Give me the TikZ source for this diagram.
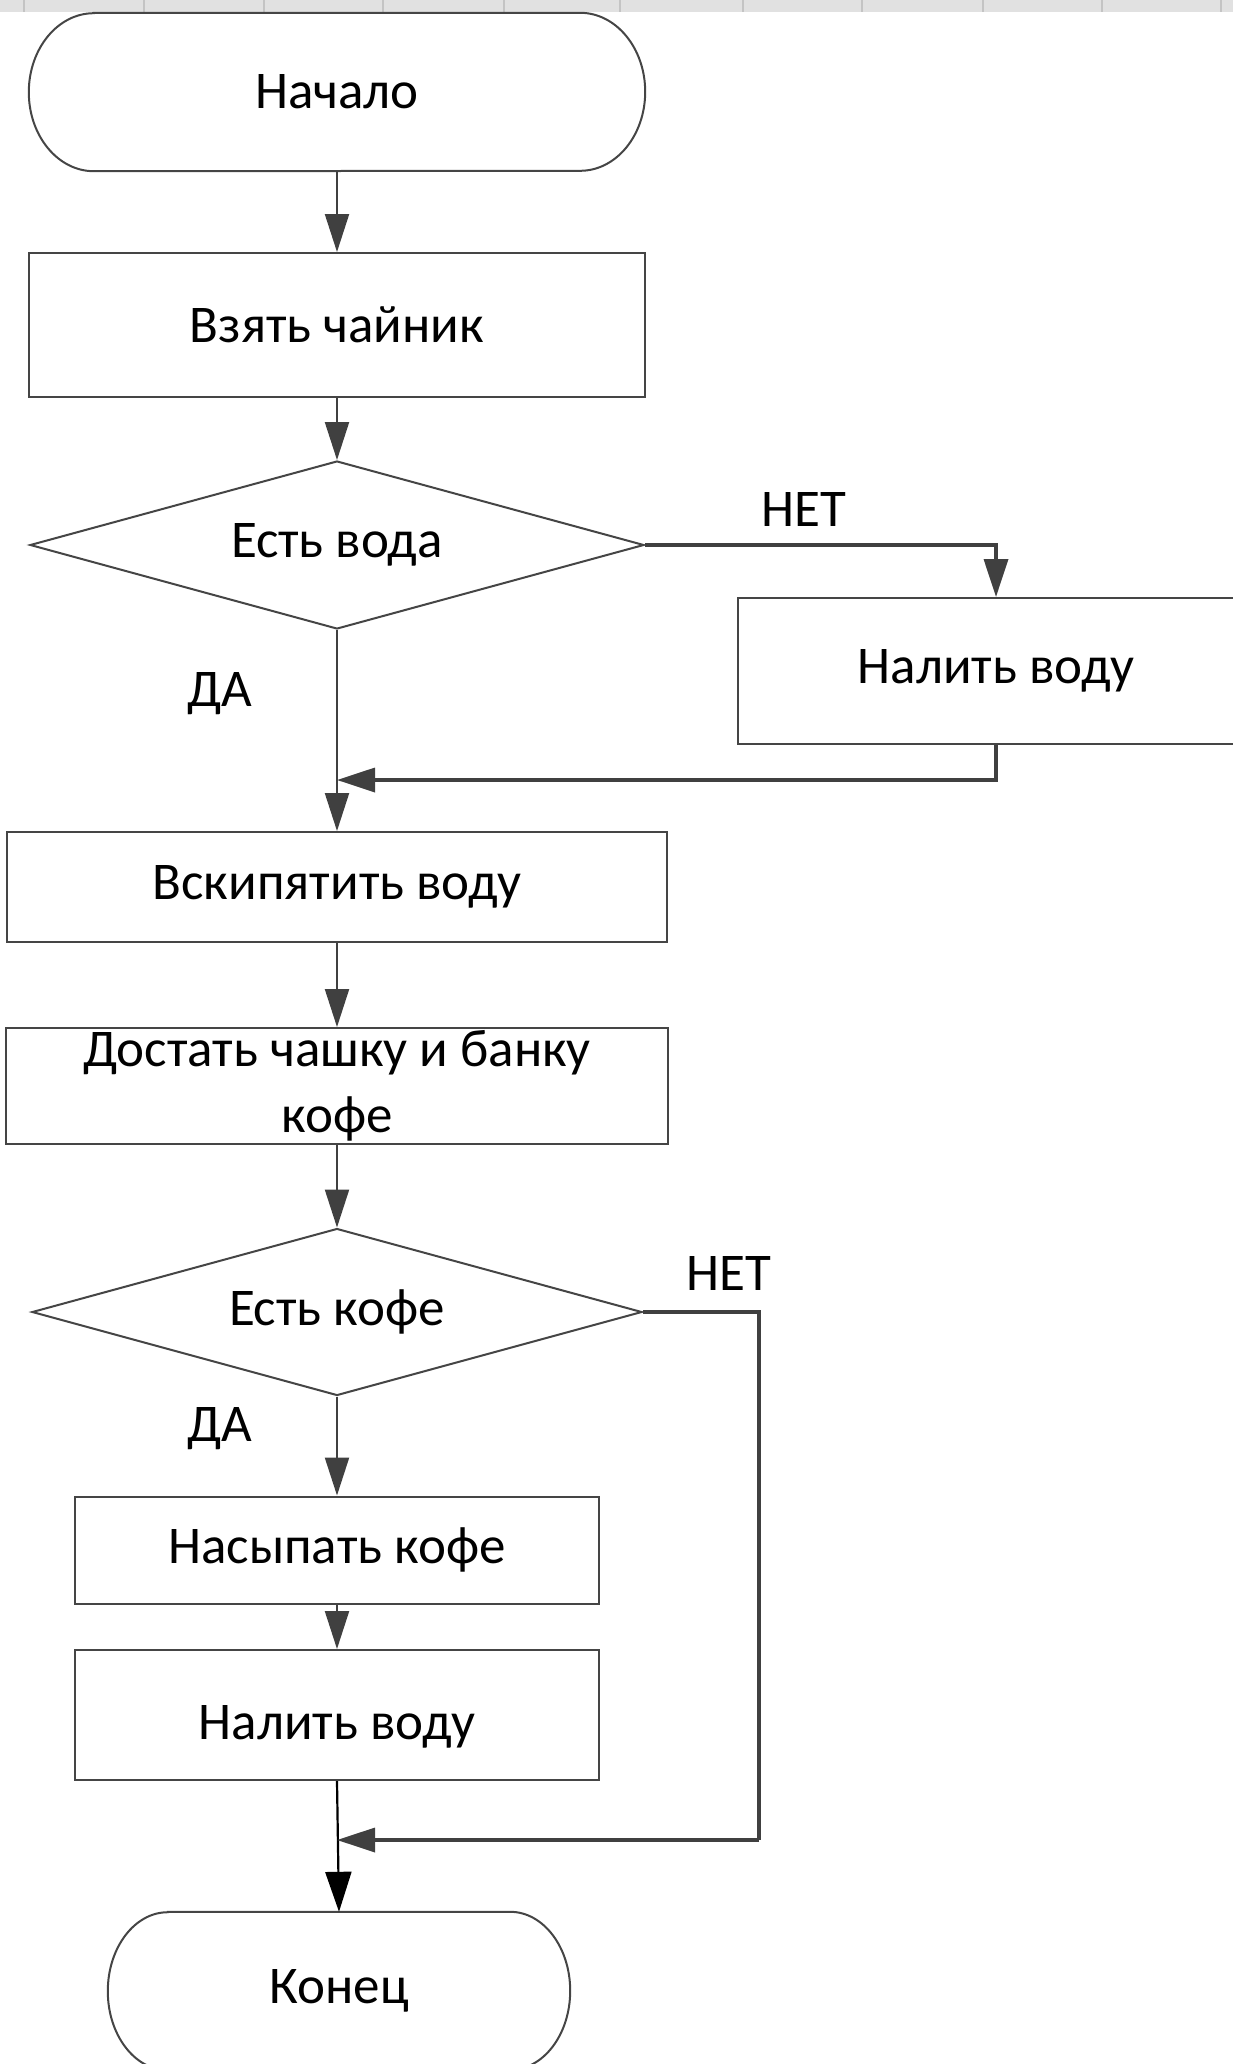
\documentclass[tikz,border=0pt]{standalone}
\usepackage{fontspec}
\setmainfont{Carlito}
\usetikzlibrary{shapes.geometric,arrows.meta}
\newcommand\flowfont{\fontsize{53}{66}\selectfont}
\definecolor{shapeline}{HTML}{454545}
\definecolor{lineclr}{HTML}{404040}
\definecolor{bandclr}{HTML}{E1E1E1}
\definecolor{bandline}{HTML}{C4C4C4}
\newcommand\capsule[3]{%
  \draw[outline] ([xshift=#2]#1.north west) -- ([xshift=-#2]#1.north east)
    arc[start angle=90,end angle=-90,x radius=#2,y radius=#3]
    -- ([xshift=#2]#1.south west)
    arc[start angle=270,end angle=90,x radius=#2,y radius=#3] -- cycle;}
\begin{document}
\begin{tikzpicture}[x=1pt,y=-1pt,
  outline/.style={draw=shapeline, line width=2pt},
  box/.style={outline, rectangle, inner sep=0pt, font=\flowfont, text=black, align=center},
  dia/.style={outline, diamond, inner sep=0pt, aspect=3.6, font=\flowfont, text=black},
  term/.style={rectangle, inner sep=0pt, font=\flowfont, text=black},
  lbl/.style={inner sep=0pt, font=\flowfont, text=black},
  conn/.style={draw=lineclr, line width=2.2pt},
  branch/.style={draw=lineclr, line width=3.5pt},
  tip/.style={-{Triangle[length=38pt,width=24pt]}}
]
\useasboundingbox (0,0) rectangle (1233,2064);
\clip (0,0) rectangle (1233,2064);
% top band
\fill[bandclr] (0,0) rectangle (1233,12);
\foreach \xx in {24,144,264,383,504,620,743,862,983,1102,1221}
  \draw[bandline, line width=1.5pt] (\xx,0) -- (\xx,12);

% nodes
\node[term, minimum width=616pt, minimum height=158pt] (start) at (337,92) {Начало};
\capsule{start}{65pt}{79pt}
\node[box, minimum width=616pt, minimum height=144pt] (b1) at (337,325) {Взять чайник};
\node[dia, minimum width=614pt, minimum height=168pt] (d1) at (337,545) {Есть вода};
\node[box, minimum width=516pt, minimum height=146pt] (n1) at (996,671) {Налить воду};
\node[box, minimum width=660pt, minimum height=110pt] (b3) at (337,887) {Вскипятить воду};
\node[box, minimum width=662pt, minimum height=116pt] (b4) at (337,1086) {Достать чашку и банку\\кофе};
\node[dia, minimum width=610pt, minimum height=167pt] (d2) at (337,1312) {Есть кофе};
\node[box, minimum width=524pt, minimum height=107pt] (b5) at (337,1550) {Насыпать кофе};
\node[box, minimum width=524pt, minimum height=130pt] (b6) at (337,1715) {\raisebox{-12pt}[\height][\depth]{Налить воду}};
\node[term, minimum width=462pt, minimum height=158pt] (end) at (339,1991) {Конец};
\capsule{end}{60pt}{79pt}

% labels
\node[lbl] (no1) at (804,509) {НЕТ};
\node[lbl] (yes1) at (220,694) {ДА};
\node[lbl] (no2) at (729,1273) {НЕТ};
\node[lbl] (yes2) at (220,1429) {ДА};

% merge points
\coordinate (m1) at (337,780);
\coordinate (r2) at (759,1840);
\coordinate (m2) at (337,1840);

% connectors
\draw[conn,tip] (start.south) -- (b1.north);
\draw[conn,tip] (b1.south) -- (d1.north);
\draw[branch,tip] (d1.east) -| (n1.north);
\draw[conn,tip] (d1.south) -- (b3.north);
\draw[branch,tip] (n1.south) |- (m1);
\draw[conn,tip] (b3.south) -- (b4.north);
\draw[conn,tip] (b4.south) -- (d2.north);
\draw[conn,tip] (d2.south) -- (b5.north);
\draw[conn,tip] (b5.south) -- (b6.north);
\draw[conn,draw=black,-{Triangle[length=40pt,width=26pt]}] (b6.south) -- (end.north);
\draw[branch] (d2.east) -| (r2);
\draw[branch,tip] (r2) -- (m2);
\end{tikzpicture}
\end{document}
